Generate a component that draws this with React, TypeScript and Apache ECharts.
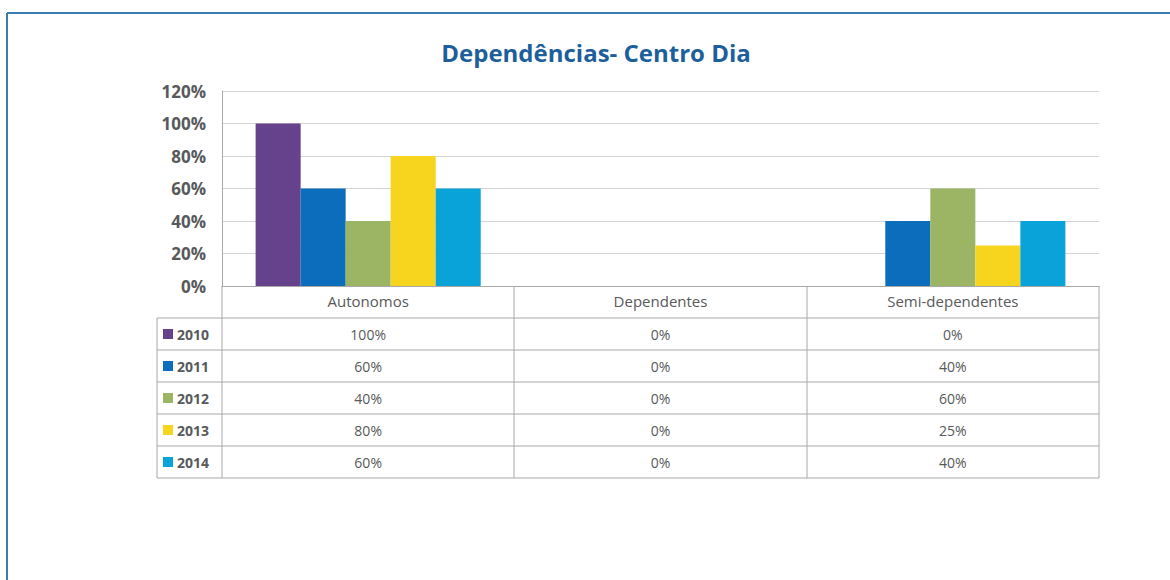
import React, { useEffect, useRef } from "react";
import * as echarts from "echarts";

const title = "Dependências- Centro Dia";
const categories = ["Autonomos", "Dependentes", "Semi-dependentes"];
const years = ["2010", "2011", "2012", "2013", "2014"];
const v2010 = [100, 0, 0];
const v2011 = [60, 0, 40];
const v2012 = [40, 0, 60];
const v2013 = [80, 0, 25];
const v2014 = [60, 0, 40];
const seriesValues = [v2010, v2011, v2012, v2013, v2014];
const colors = ["#66418C", "#0B6DBB", "#9BB564", "#F7D51E", "#0AA3D9"];
const yTicks = { min: 0, max: 120, interval: 20 };

const GL = 222;
const GR = 1099;
const GT = 91;
const GB = 286;
const TABLE_LEFT = 157;
const ROW_TOP = 318;
const ROW_H = 32;
const LINE = "#A8A8A8";
const TEXT = "#58595B";

export default function App() {
  const ref = useRef<HTMLDivElement>(null);
  useEffect(() => {
    if (!ref.current) return;
    const chart = echarts.init(ref.current, null, { renderer: "svg" });
    const band = (GR - GL) / categories.length;
    const tableBottom = ROW_TOP + ROW_H * years.length;
    const graphics: any[] = [];
    // outer frame
    graphics.push({ type: "line", shape: { x1: 7, y1: 13, x2: 1170, y2: 13 }, style: { stroke: "#3A7DB0", lineWidth: 2 } });
    graphics.push({ type: "line", shape: { x1: 7, y1: 13, x2: 7, y2: 580 }, style: { stroke: "#3A7DB0", lineWidth: 2 } });
    // title
    graphics.push({
      type: "text",
      x: 596,
      y: 52,
      style: { text: title, fill: "#1C5F9C", font: "bold 24px 'Open Sans', sans-serif", textAlign: "center", textVerticalAlign: "middle" },
    });
    // table vertical lines
    graphics.push({ type: "line", shape: { x1: TABLE_LEFT, y1: ROW_TOP, x2: TABLE_LEFT, y2: tableBottom }, style: { stroke: LINE, lineWidth: 1 } });
    graphics.push({ type: "line", shape: { x1: GL, y1: GB, x2: GL, y2: tableBottom }, style: { stroke: LINE, lineWidth: 1 } });
    for (let i = 1; i <= categories.length; i++) {
      const x = Math.round(GL + band * i);
      graphics.push({ type: "line", shape: { x1: x, y1: GB, x2: x, y2: tableBottom }, style: { stroke: LINE, lineWidth: 1 } });
    }
    // table horizontal lines
    for (let r = 0; r <= years.length; r++) {
      const y = ROW_TOP + ROW_H * r;
      graphics.push({ type: "line", shape: { x1: TABLE_LEFT, y1: y, x2: GR, y2: y }, style: { stroke: LINE, lineWidth: 1 } });
    }
    // rows
    years.forEach((yr, r) => {
      const cy = ROW_TOP + ROW_H * r + ROW_H / 2;
      graphics.push({ type: "rect", shape: { x: 163, y: cy - 5, width: 10, height: 10 }, style: { fill: colors[r] } });
      graphics.push({
        type: "text",
        x: 177,
        y: cy,
        style: { text: yr, fill: TEXT, font: "bold 14px 'Open Sans', sans-serif", textVerticalAlign: "middle", textAlign: "left" },
      });
      seriesValues[r].forEach((v, c) => {
        graphics.push({
          type: "text",
          x: GL + band * c + band / 2,
          y: cy,
          style: { text: v + "%", fill: TEXT, font: "14px 'Open Sans', sans-serif", textVerticalAlign: "middle", textAlign: "center" },
        });
      });
    });

    chart.setOption({
      animation: false,
      backgroundColor: "#ffffff",
      grid: { left: GL, right: 1170 - GR, top: GT, bottom: 580 - GB },
      xAxis: {
        type: "category",
        data: categories,
        axisLine: { show: true, lineStyle: { color: LINE } },
        axisTick: { show: false },
        axisLabel: { color: TEXT, fontSize: 15, margin: 7, fontFamily: "'Open Sans', sans-serif" },
      },
      yAxis: {
        type: "value",
        min: yTicks.min,
        max: yTicks.max,
        interval: yTicks.interval,
        axisLine: { show: true, lineStyle: { color: LINE } },
        axisTick: { show: false },
        axisLabel: {
          formatter: "{value}%",
          color: TEXT,
          fontSize: 17,
          fontWeight: "bold",
          margin: 16,
          fontFamily: "'Open Sans', sans-serif",
        },
        splitLine: { show: true, lineStyle: { color: "#D4D4D4" } },
      },
      series: years.map((yr, i) => ({
        name: yr,
        type: "bar",
        data: seriesValues[i],
        itemStyle: { color: colors[i] },
        barGap: "0%",
        barCategoryGap: "23%",
      })),
      graphic: graphics,
    });
    return () => chart.dispose();
  }, []);
  return <div ref={ref} style={{ position: "fixed", left: 0, top: 0, width: 1170, height: 580 }} />;
}
